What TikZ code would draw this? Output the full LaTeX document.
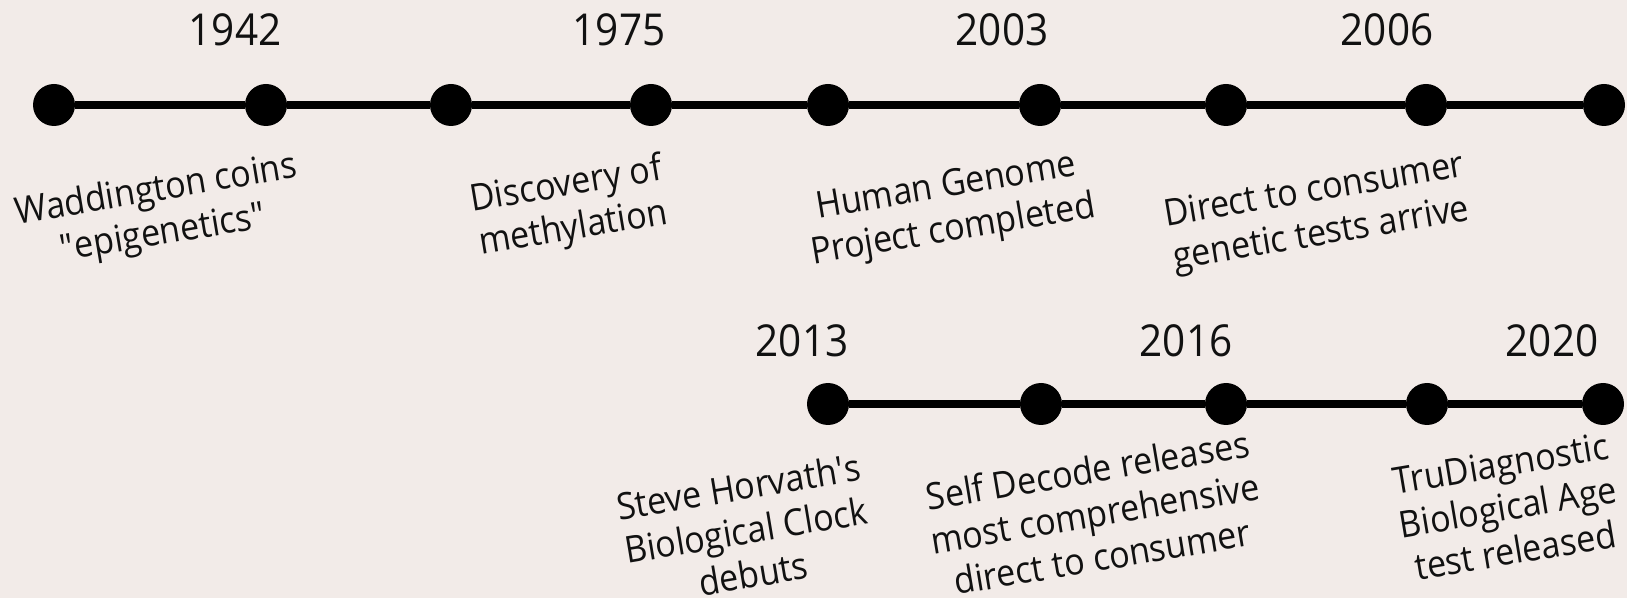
\documentclass[tikz,border=0pt]{standalone}
\usepackage{fontspec}
\setmainfont[FakeStretch=0.92]{Open Sans}
\definecolor{paper}{HTML}{F2EBE8}
\definecolor{ink}{HTML}{111111}
\tikzset{
  dot/.style={circle,fill=black,inner sep=0pt,minimum size=21pt},
  bar/.style={line width=4.25pt,black},
  yearlabel/.style={anchor=base,text=ink,font=\fontsize{22}{26}\selectfont},
  eventlabel/.style={text=ink,align=center,rotate=9.5,font=\fontsize{18.5}{22}\selectfont},
}
\begin{document}
\begin{tikzpicture}[x=0.5pt,y=-0.5pt]
	\fill[paper] (0,0) rectangle (1627,598);
	\useasboundingbox (0,0) rectangle (1627,598);
	% top row
	\foreach \n/\x in {1/54,2/266,3/451,4/651,5/828,6/1040,7/1226,8/1426,9/1604}{
		\node[dot] (t\n) at (\x,105) {};
	}
	\foreach \a/\b in {1/2,2/3,3/4,4/5,5/6,6/7,7/8,8/9}{
		\draw[bar] (t\a) -- (t\b);
	}
	% bottom row
	\foreach \n/\x in {1/828,2/1041,3/1226,4/1427,5/1603}{
		\node[dot] (b\n) at (\x,404) {};
	}
	\foreach \a/\b in {1/2,2/3,3/4,4/5}{
		\draw[bar] (b\a) -- (b\b);
	}
	% years
	\node[yearlabel] (y1942) at (235,46) {1942};
	\node[yearlabel] (y1975) at (619,46) {1975};
	\node[yearlabel] (y2003) at (1002,46) {2003};
	\node[yearlabel] (y2006) at (1387,46) {2006};
	\node[yearlabel] (y2013) at (802,357) {2013};
	\node[yearlabel] (y2016) at (1186,357) {2016};
	\node[yearlabel] (y2020) at (1552,357) {2020};
	% events
	\node[eventlabel] (e1) at (160,213) {Waddington coins\\\textquotedbl epigenetics\textquotedbl};
	\node[eventlabel] (e2) at (570,208) {Discovery of\\methylation};
	\node[eventlabel] (e3) at (950,210) {Human Genome\\Project completed};
	\node[eventlabel] (e4) at (1318,214) {Direct to consumer\\genetic tests arrive};
	\node[eventlabel] (e5) at (746,530) {Steve Horvath\textquotesingle s\\Biological Clock\\debuts};
	\node[eventlabel] (e6) at (1095,513) {Self Decode releases\\most comprehensive\\direct to consumer};
	\node[eventlabel] (e7) at (1508,507) {TruDiagnostic\\Biological Age\\test released};
\end{tikzpicture}
\end{document}
